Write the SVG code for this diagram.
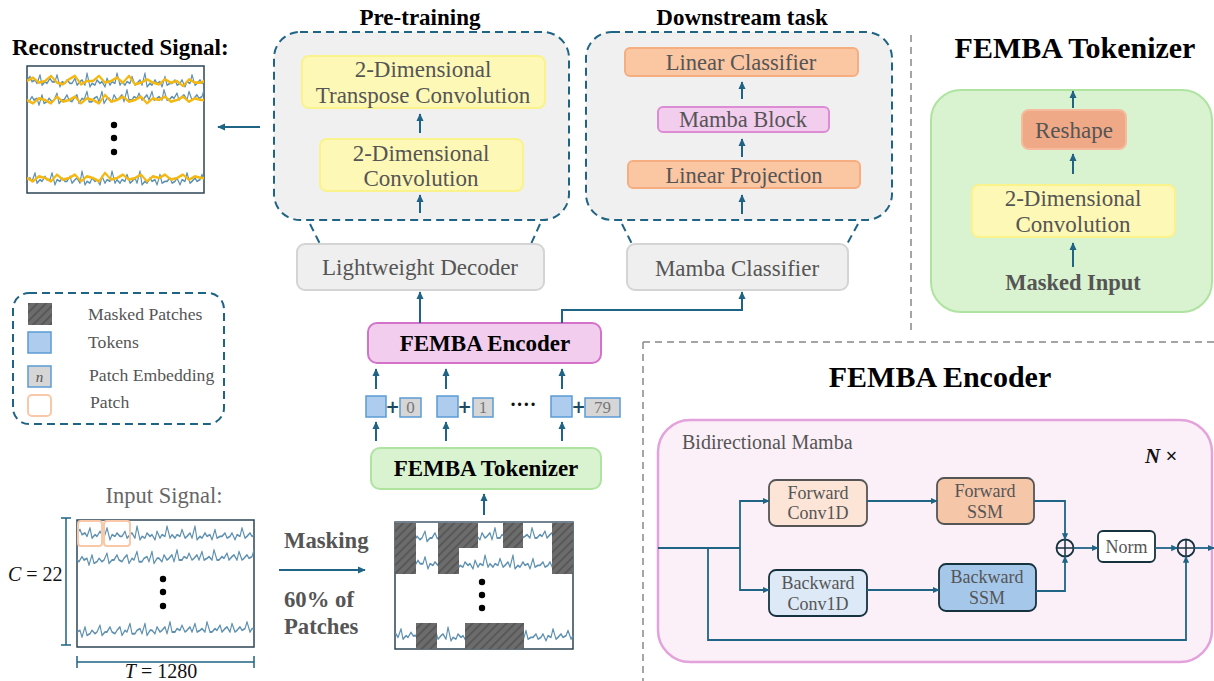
<svg xmlns="http://www.w3.org/2000/svg" width="1214" height="681" viewBox="0 0 1214 681">
<style>
text{font-family:"Liberation Serif","Times New Roman",serif;}
.t{fill:#555;}
.b{font-weight:bold;fill:#000;}
.c{stroke:#1f6485;stroke-width:2;fill:none;}
.ca{stroke:#1f6485;stroke-width:2;fill:none;marker-end:url(#ah);}
.ci{stroke:#1f6485;stroke-width:1.8;fill:none;}
.cia{stroke:#1f6485;stroke-width:1.8;fill:none;marker-end:url(#ahs);}
.dash{stroke:#1f6485;stroke-width:2;stroke-dasharray:8 5;fill:#f0f0f0;}
.dl{stroke:#1f6485;stroke-width:2;stroke-dasharray:8 5;fill:none;}
.gd{stroke:#888;stroke-width:1.5;stroke-dasharray:7 5;fill:none;}
.yel{fill:#fdf8b6;stroke:#faf28a;stroke-width:2;}
.org{fill:#fbc6a2;stroke:#f6ad80;stroke-width:2;}
.gry{fill:#efefef;stroke:#d4d4d4;stroke-width:2;}
.sig{stroke:#5d90b0;stroke-width:1.1;fill:none;stroke-linejoin:round;vector-effect:non-scaling-stroke;}
.rec{stroke:#f5b810;stroke-width:1.6;fill:none;stroke-linejoin:round;vector-effect:non-scaling-stroke;}
.tok{fill:#aecdee;stroke:#5b9bd5;stroke-width:1.5;}
.emb{fill:#d6d6d6;stroke:#5b9bd5;stroke-width:1.5;}
.hat{fill:url(#hatch);}
.dot{fill:#000;}
.plus{font-family:"DejaVu Sans",sans-serif;font-weight:bold;font-size:17px;fill:#1a4a60;}
</style>
<defs>
<marker id="ah" viewBox="0 0 10 10" refX="9" refY="5" markerWidth="8" markerHeight="8" markerUnits="userSpaceOnUse" orient="auto"><path d="M0,0.5 L10,5 L0,9.5 z" fill="#1f6485"/></marker>
<marker id="ahs" viewBox="0 0 10 10" refX="9" refY="5" markerWidth="7" markerHeight="7" markerUnits="userSpaceOnUse" orient="auto"><path d="M0,0.5 L10,5 L0,9.5 z" fill="#1f6485"/></marker>
<pattern id="hatch" patternUnits="userSpaceOnUse" width="6" height="6" patternTransform="rotate(45)"><rect width="6" height="6" fill="#6c6c6c"/><line x1="1" y1="0" x2="1" y2="6" stroke="#585858" stroke-width="2"/></pattern>
<path id="sigA" d="M0,0 l3,-2 2,3 3,-1 2,2 3,-5 2,6 3,-2 2,1 3,-3 2,2 3,0 2,-4 3,7 2,-3 3,1 2,-2 3,2 2,0 3,-3 2,4 3,-2 2,-1 3,3 2,-7 3,8 2,-2 3,1 2,-3 3,2 2,-1 3,3 2,-5 3,4 2,-2 3,1 2,-6 3,7 2,-2 3,2 2,-2 3,1 2,-4 3,5 2,-1 3,-2 2,3 3,-7 2,8 3,-2 2,1 3,-3 2,2 3,-1 2,3 3,-6 2,5 3,-1 2,0 3,-2 2,3 3,-1 2,-2 3,4 2,-3 3,1 2,-5 3,6 2,-1 3,-2 2,2 3,-1 2,-3 3,5 2,-2 3,0"/>
<path id="sigB" d="M0,0 l2,1 3,-3 2,2 3,-1 2,4 3,-6 2,5 3,-1 2,-2 3,2 2,-1 3,-4 2,6 3,-2 2,0 3,-3 2,3 3,1 2,-2 3,-2 2,5 3,-3 2,1 3,-5 2,6 3,0 2,-2 3,-1 2,3 3,-6 2,7 3,-3 2,0 3,2 2,-4 3,3 2,-1 3,-2 2,4 3,-7 2,6 3,0 2,-2 3,1 2,-3 3,4 2,-1 3,-2 2,3 3,-5 2,5 3,-1 2,-1 3,2 2,-6 3,6 2,0 3,-2 2,1 3,-3 2,4 3,-2 2,-1 3,3 2,-5 3,5 2,-1 3,-2 2,2 3,-1 2,-4 3,6 2,-2 3,0"/>
<path id="smA" d="M0,0 l6,-2 6,3 6,-1 6,-3 6,4 6,1 6,-3 6,-2 6,5 6,-2 6,0 6,-3 6,4 6,-1 6,-2 6,3 6,-4 6,5 6,-1 6,-2 6,2 6,1 6,-3 6,2 6,-1 6,3 6,-4 6,2 6,0 6,-2 6,3"/>
<path id="smB" d="M0,0 l6,2 6,-3 6,1 6,2 6,-4 6,3 6,-1 6,-2 6,4 6,-3 6,1 6,2 6,-5 6,4 6,-1 6,-2 6,3 6,-1 6,-2 6,4 6,-3 6,1 6,-2 6,3 6,-1 6,-2 6,3 6,-2 6,1 6,0 6,-1"/>
<clipPath id="cpR"><rect x="27" y="66" width="177" height="127"/></clipPath>
<clipPath id="cpI"><rect x="77" y="520" width="177" height="127"/></clipPath>
<clipPath id="cpM"><rect x="395" y="522" width="178" height="127"/></clipPath>
</defs>

<rect width="1214" height="681" fill="#fff"/>

<g id="dividers">
<line class="gd" x1="911" y1="35" x2="911" y2="332"/>
<line class="gd" x1="643" y1="342" x2="1214" y2="342"/>
<line class="gd" x1="643" y1="342" x2="643" y2="681"/>
</g>

<g id="reconstructed">
<text class="b" x="12" y="55" font-size="23">Reconstructed Signal:</text>
<rect x="27" y="66" width="177" height="127" fill="#fff" stroke="#2d4555" stroke-width="1.5"/>
<g clip-path="url(#cpR)">
<use href="#sigA" transform="translate(27,80) scale(1,1.7)" class="sig"/>
<use href="#smA" transform="translate(27,81) scale(1,1.7)" class="rec"/>
<use href="#sigB" transform="translate(27,100) scale(1,1.7)" class="sig"/>
<use href="#smB" transform="translate(27,100) scale(1,1.7)" class="rec"/>
<use href="#sigA" transform="translate(22,178) scale(1,1.7)" class="sig"/>
<use href="#smB" transform="translate(27,178) scale(1,1.7)" class="rec"/>
</g>
<circle class="dot" cx="114" cy="125" r="3.2"/>
<circle class="dot" cx="114" cy="138" r="3.2"/>
<circle class="dot" cx="114" cy="152" r="3.2"/>
</g>

<g id="pretraining">
<text class="b" x="420" y="25" font-size="23" text-anchor="middle">Pre-training</text>
<rect class="dash" x="274" y="32" width="295" height="188" rx="26"/>
<line class="dl" x1="310" y1="224" x2="320" y2="244"/>
<line class="dl" x1="540" y1="224" x2="531" y2="244"/>
</g>
<g id="transpose-conv">
<rect class="yel" x="302" y="56" width="243" height="52" rx="7"/>
<text class="t" x="423" y="77" font-size="23" text-anchor="middle">2-Dimensional</text>
<text class="t" x="423" y="103" font-size="23" text-anchor="middle">Transpose Convolution</text>
</g>
<g id="decoder-conv">
<rect class="yel" x="320" y="139" width="203" height="52" rx="7"/>
<text class="t" x="421" y="161" font-size="23" text-anchor="middle">2-Dimensional</text>
<text class="t" x="421" y="186" font-size="23" text-anchor="middle">Convolution</text>
</g>
<g id="lightweight-decoder">
<rect class="gry" x="297" y="244" width="247" height="46" rx="8"/>
<text class="t" x="420" y="275" font-size="23" text-anchor="middle">Lightweight Decoder</text>
</g>

<g id="downstream">
<text class="b" x="742" y="25" font-size="23" text-anchor="middle">Downstream task</text>
<rect class="dash" x="586" y="32" width="306" height="188" rx="26"/>
<line class="dl" x1="622" y1="224" x2="632" y2="244"/>
<line class="dl" x1="858" y1="224" x2="847" y2="244"/>
</g>
<g id="linear-classifier">
<rect class="org" x="625" y="48" width="233" height="28" rx="5"/>
<text class="t" x="741" y="70" font-size="22.5" text-anchor="middle">Linear Classifier</text>
</g>
<g id="mamba-block">
<rect x="658" y="107" width="171" height="25" rx="5" fill="#f2cdee" stroke="#dc8cd2" stroke-width="2"/>
<text class="t" x="743" y="127" font-size="22.5" text-anchor="middle">Mamba Block</text>
</g>
<g id="linear-projection">
<rect class="org" x="628" y="161" width="232" height="27" rx="5"/>
<text class="t" x="744" y="183" font-size="22.5" text-anchor="middle">Linear Projection</text>
</g>
<g id="mamba-classifier">
<rect class="gry" x="627" y="244" width="221" height="46" rx="8"/>
<text class="t" x="737" y="276" font-size="23" text-anchor="middle">Mamba Classifier</text>
</g>

<g id="tokenizer-detail">
<text class="b" x="1075" y="58" font-size="30" text-anchor="middle">FEMBA Tokenizer</text>
<rect x="931" y="90" width="281" height="222" rx="30" fill="#d9f2d0" stroke="#aee3a0" stroke-width="2"/>
<text x="1073" y="290" font-size="22.5" font-weight="bold" fill="#555" text-anchor="middle">Masked Input</text>
</g>
<g id="reshape">
<rect x="1022" y="110" width="104" height="39" rx="7" fill="#f0a986" stroke="#f5bb9c" stroke-width="2"/>
<text class="t" x="1074" y="138" font-size="23" text-anchor="middle">Reshape</text>
</g>
<g id="tokenizer-conv">
<rect class="yel" x="972" y="185" width="203" height="52" rx="7"/>
<text class="t" x="1073" y="206" font-size="23" text-anchor="middle">2-Dimensional</text>
<text class="t" x="1073" y="232" font-size="23" text-anchor="middle">Convolution</text>
</g>

<g id="legend">
<rect x="13" y="293" width="211" height="131" rx="16" fill="none" stroke="#1f6485" stroke-width="2" stroke-dasharray="8 5"/>
<rect x="28" y="303" width="24" height="22" class="hat"/>
<text class="t" x="88" y="320" font-size="17.7">Masked Patches</text>
<rect x="28" y="332" width="23" height="21" class="tok"/>
<text class="t" x="88" y="348" font-size="17.7">Tokens</text>
<rect x="28" y="366" width="23" height="21" class="emb"/>
<text x="39.5" y="382" font-size="15" font-style="italic" fill="#555" text-anchor="middle">n</text>
<text class="t" x="89" y="381" font-size="17.7">Patch Embedding</text>
<rect x="28" y="395" width="23" height="21" rx="4" fill="none" stroke="#f8c8a8" stroke-width="2"/>
<text class="t" x="90" y="408" font-size="17.7">Patch</text>
</g>

<g id="femba-encoder">
<rect x="368" y="323" width="233" height="40" rx="9" fill="#f2cdee" stroke="#d272c9" stroke-width="2"/>
<text class="b" x="485" y="351" font-size="23" text-anchor="middle" fill="#111">FEMBA Encoder</text>
</g>

<g id="tokens">
<rect x="366" y="396" width="20" height="21" class="tok"/>
<text class="plus" x="392.5" y="413" text-anchor="middle">+</text>
<rect x="400" y="398" width="21" height="19" class="emb"/>
<text x="410.5" y="413" font-size="17" fill="#777" text-anchor="middle">0</text>
<rect x="437" y="396" width="21" height="21" class="tok"/>
<text class="plus" x="464.5" y="413" text-anchor="middle">+</text>
<rect x="473" y="398" width="20" height="19" class="emb"/>
<text x="483" y="413" font-size="17" fill="#777" text-anchor="middle">1</text>
<text x="523" y="411" font-size="20" font-weight="bold" fill="#111" text-anchor="middle">····</text>
<rect x="551" y="396" width="21" height="21" class="tok"/>
<text class="plus" x="578.5" y="413" text-anchor="middle">+</text>
<rect x="585" y="398" width="35" height="19" class="emb"/>
<text x="602.5" y="413" font-size="17" fill="#777" text-anchor="middle">79</text>
</g>

<g id="femba-tokenizer">
<rect x="371" y="448" width="230" height="41" rx="9" fill="#d9f2d0" stroke="#aee3a0" stroke-width="2"/>
<text class="b" x="486" y="476" font-size="23" text-anchor="middle" fill="#111">FEMBA Tokenizer</text>
</g>

<g id="input-signal">
<text x="164" y="503" font-size="22.5" fill="#666" text-anchor="middle">Input Signal:</text>
<rect x="77" y="520" width="177" height="127" fill="#fff" stroke="#2d4555" stroke-width="1.5"/>
<g clip-path="url(#cpI)">
<use href="#sigA" transform="translate(77,533) scale(1,1.7)" class="sig"/>
<use href="#sigB" transform="translate(77,560) scale(1,1.7)" class="sig"/>
<use href="#sigB" transform="translate(70,632) scale(1,1.7)" class="sig"/>
</g>
<rect x="78" y="521" width="24" height="25" rx="3" fill="none" stroke="#f8c8a8" stroke-width="2"/>
<rect x="104" y="521" width="26" height="25" rx="3" fill="none" stroke="#f8c8a8" stroke-width="2"/>
<circle class="dot" cx="163" cy="579" r="3.2"/>
<circle class="dot" cx="163" cy="592" r="3.2"/>
<circle class="dot" cx="163" cy="606" r="3.2"/>
<path d="M61,518 H71 M66,518 V645 M61,645 H71" stroke="#1f6485" stroke-width="1.5" fill="none"/>
<path d="M77,656 V668 M77,662 H254 M254,656 V668" stroke="#1f6485" stroke-width="1.5" fill="none"/>
<text x="8" y="581" font-size="20" fill="#111"><tspan font-style="italic">C</tspan> = 22</text>
<text x="161" y="678" font-size="20" fill="#111" text-anchor="middle"><tspan font-style="italic">T</tspan> = 1280</text>
</g>

<g id="masking">
<text x="284" y="548" font-size="22.7" font-weight="bold" fill="#555">Masking</text>
<text x="284" y="607" font-size="22.7" font-weight="bold" fill="#555">60% of</text>
<text x="284" y="634" font-size="22.7" font-weight="bold" fill="#555">Patches</text>
</g>

<g id="masked-signal">
<rect x="395" y="522" width="178" height="127" fill="#fff" stroke="#2d4555" stroke-width="1.5"/>
<g clip-path="url(#cpM)">
<use href="#sigB" transform="translate(395,538) scale(1,1.7)" class="sig"/>
<use href="#sigA" transform="translate(395,562) scale(1,1.7)" class="sig"/>
<use href="#sigA" transform="translate(388,634) scale(1,1.7)" class="sig"/>
</g>
<rect class="hat" x="395" y="522" width="21" height="52"/>
<rect class="hat" x="438" y="522" width="40" height="26"/>
<rect class="hat" x="438" y="548" width="21" height="26"/>
<rect class="hat" x="503" y="522" width="20" height="26"/>
<rect class="hat" x="552" y="522" width="21" height="52"/>
<rect class="hat" x="416" y="623" width="21" height="26"/>
<rect class="hat" x="465" y="623" width="59" height="26"/>
<line x1="395" y1="522" x2="573" y2="522" stroke="#778899" stroke-width="1.5"/>
<circle class="dot" cx="482" cy="582" r="3.2"/>
<circle class="dot" cx="482" cy="595" r="3.2"/>
<circle class="dot" cx="482" cy="608" r="3.2"/>
</g>

<g id="encoder-detail">
<text class="b" x="940" y="387" font-size="30" text-anchor="middle">FEMBA Encoder</text>
<rect x="658" y="420" width="554" height="242" rx="32" fill="#fbf0f8" stroke="#e4a2dc" stroke-width="2.5"/>
<text class="t" x="682" y="449" font-size="20">Bidirectional Mamba</text>
<text x="1145" y="463" font-size="21" fill="#111"><tspan font-weight="bold" font-style="italic">N</tspan> <tspan font-weight="bold">×</tspan></text>
</g>
<g id="forward-conv1d">
<rect x="769" y="480" width="98" height="46" rx="7" fill="#fce4d6" stroke="#555" stroke-width="1.8"/>
<text class="t" x="818" y="499" font-size="18" text-anchor="middle">Forward</text>
<text class="t" x="818" y="519" font-size="18" text-anchor="middle">Conv1D</text>
</g>
<g id="forward-ssm">
<rect x="937" y="478" width="97" height="46" rx="7" fill="#f6c6a9" stroke="#555" stroke-width="1.8"/>
<text class="t" x="985" y="497" font-size="18" text-anchor="middle">Forward</text>
<text class="t" x="985" y="518" font-size="18" text-anchor="middle">SSM</text>
</g>
<g id="backward-conv1d">
<rect x="769" y="570" width="98" height="46" rx="7" fill="#dde9f6" stroke="#17323f" stroke-width="1.8"/>
<text class="t" x="818" y="589" font-size="18" text-anchor="middle">Backward</text>
<text class="t" x="818" y="610" font-size="18" text-anchor="middle">Conv1D</text>
</g>
<g id="backward-ssm">
<rect x="939" y="564" width="97" height="47" rx="7" fill="#a4c7ea" stroke="#17323f" stroke-width="1.8"/>
<text class="t" x="987" y="583" font-size="18" text-anchor="middle">Backward</text>
<text class="t" x="987" y="604" font-size="18" text-anchor="middle">SSM</text>
</g>
<g id="sum1">
<circle cx="1065" cy="548" r="8.5" fill="none" stroke="#17323f" stroke-width="1.8"/>
<path d="M1056.5,548 H1073.5 M1065,539.5 V556.5" stroke="#17323f" stroke-width="1.5"/>
</g>
<g id="norm">
<rect x="1098" y="531" width="57" height="31" rx="5" fill="#fff" stroke="#17323f" stroke-width="1.8"/>
<text class="t" x="1126.5" y="553" font-size="18" text-anchor="middle">Norm</text>
</g>
<g id="sum2">
<circle cx="1186" cy="548" r="8.5" fill="none" stroke="#17323f" stroke-width="1.8"/>
<path d="M1177.5,548 H1194.5 M1186,539.5 V556.5" stroke="#17323f" stroke-width="1.5"/>
</g>

<g id="connectors">
<line class="ca" x1="260" y1="127" x2="218" y2="127"/>
<line class="ca" x1="420" y1="133" x2="420" y2="114"/>
<line class="ca" x1="420" y1="213" x2="420" y2="195"/>
<line class="ca" x1="742" y1="99" x2="742" y2="82"/>
<line class="ca" x1="742" y1="157" x2="742" y2="139"/>
<line class="ca" x1="742" y1="214" x2="742" y2="195"/>
<line class="ca" x1="1073" y1="108" x2="1073" y2="91"/>
<line class="ca" x1="1073" y1="174" x2="1073" y2="154"/>
<line class="ca" x1="1073" y1="267" x2="1073" y2="243"/>
<line class="ca" x1="420" y1="323" x2="420" y2="292"/>
<path class="ca" d="M562,323 V310 H742 V292"/>
<line class="ca" x1="376" y1="389" x2="376" y2="369"/>
<line class="ca" x1="446" y1="389" x2="446" y2="369"/>
<line class="ca" x1="562" y1="389" x2="562" y2="369"/>
<line class="ca" x1="376" y1="441" x2="376" y2="422"/>
<line class="ca" x1="446" y1="441" x2="446" y2="422"/>
<line class="ca" x1="562" y1="441" x2="562" y2="422"/>
<line class="ca" x1="484" y1="515" x2="484" y2="494"/>
<line class="ca" x1="279" y1="570" x2="365" y2="570"/>
<path class="ci" d="M658,548 H740"/>
<path class="cia" d="M740,548 V501 H769"/>
<path class="cia" d="M740,548 V590 H769"/>
<path class="cia" d="M867,501 H937"/>
<path class="cia" d="M867,590 H939"/>
<path class="cia" d="M1034,501 H1065 V539.5"/>
<path class="cia" d="M1036,591 H1065 V556.5"/>
<path class="cia" d="M1073.5,548 H1098"/>
<path class="cia" d="M1155,548 H1177.5"/>
<path class="cia" d="M1194.5,548 H1214"/>
<path class="cia" d="M708,548 V640 H1186 V556.5"/>
</g>
</svg>
